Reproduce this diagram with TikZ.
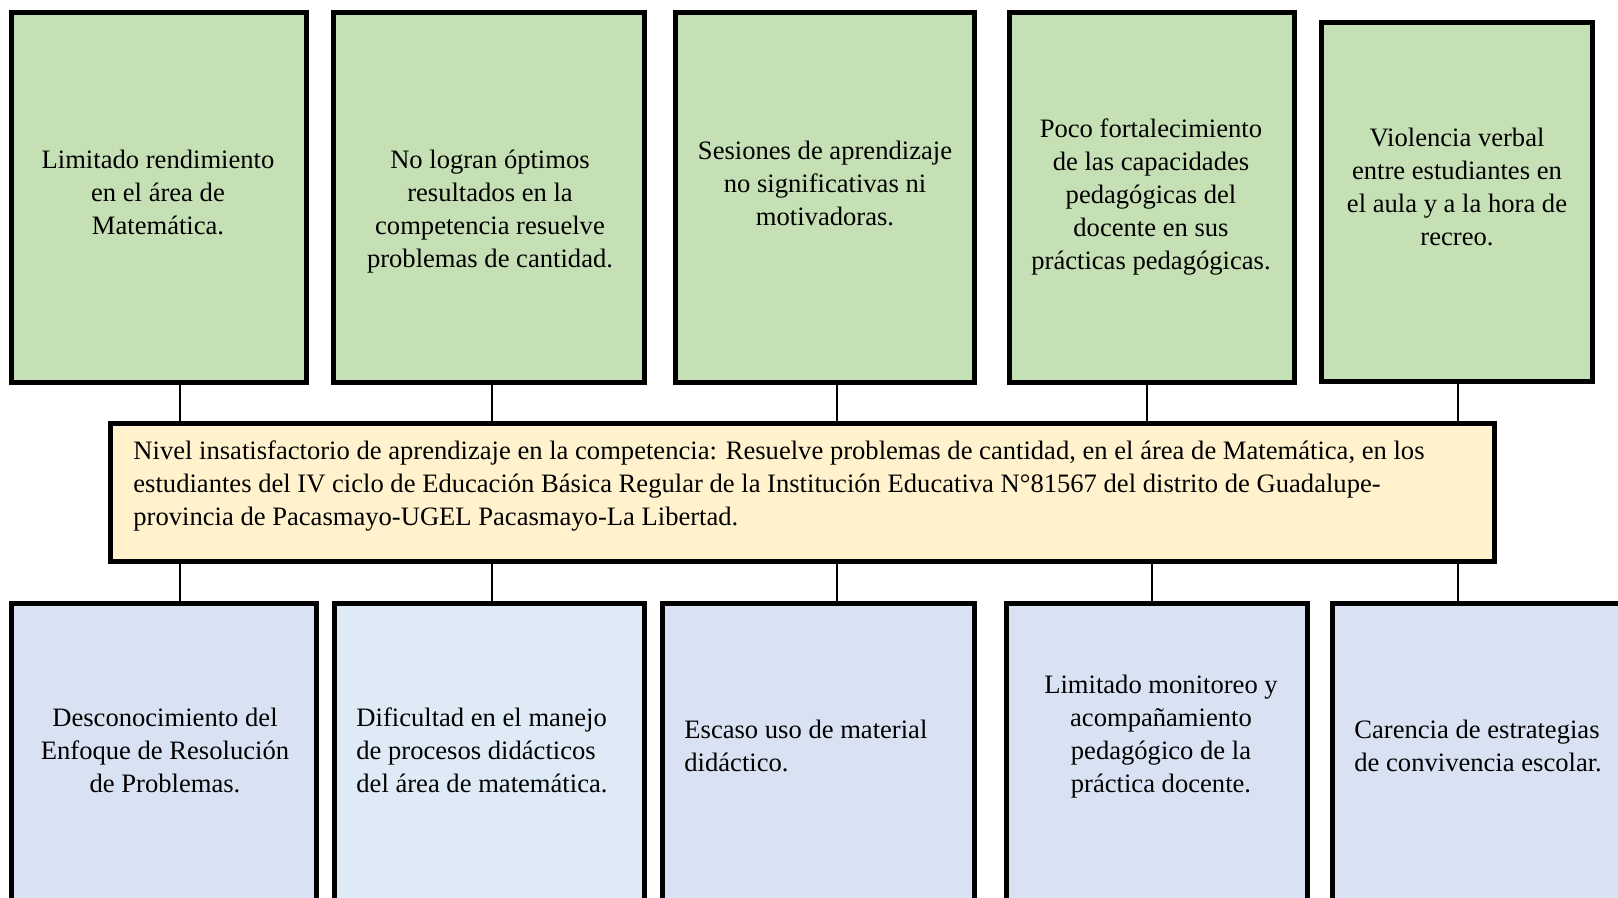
\documentclass[tikz,border=0pt]{standalone}
\usepackage{fontspec}
\setmainfont{Liberation Serif}
\definecolor{topgreen}{HTML}{C5E0B4}
\definecolor{midyellow}{HTML}{FFF2CC}
\definecolor{botblue}{HTML}{D9E2F3}
\definecolor{botblue2}{HTML}{DEEAF6}
\tikzset{
  box/.style={draw=black, line width=2.5pt, rectangle, inner sep=0pt, outer sep=0pt},
  topbox/.style={box, fill=topgreen},
  midbox/.style={box, fill=midyellow},
  botbox/.style={box, fill=botblue},
  txt/.style={inner sep=0pt, font=\fontsize{13.3pt}{16.5pt}\selectfont},
  ctxt/.style={txt, align=center},
  ltxt/.style={txt, align=left},
  conn/.style={draw=black, line width=1pt}
}
\begin{document}
\begin{tikzpicture}[x=0.5pt, y=-0.5pt]
\useasboundingbox (0,0) rectangle (1618,898);
\clip (0,0) rectangle (1618,898);
% top boxes
\node[topbox, minimum width=147.5pt, minimum height=185pt] (t1) at (159,197.5) {};
\node[topbox, minimum width=155.5pt, minimum height=185pt] (t2) at (489,197.5) {};
\node[topbox, minimum width=149.5pt, minimum height=185pt] (t3) at (825,197.5) {};
\node[topbox, minimum width=142.5pt, minimum height=185pt] (t4) at (1152,197.5) {};
\node[topbox, minimum width=135.5pt, minimum height=179.5pt] (t5) at (1457,202) {};
% centre box
\node[midbox, minimum width=692pt, minimum height=69pt] (c) at (802.5,492.5) {};
% bottom boxes
\node[botbox, minimum width=152.5pt, minimum height=200pt] (b1) at (164,803.5) {};
\node[botbox, fill=botblue2, minimum width=155pt, minimum height=200pt] (b2) at (489.5,803.5) {};
\node[botbox, minimum width=156pt, minimum height=200pt] (b3) at (818.5,803.5) {};
\node[botbox, minimum width=150.5pt, minimum height=200pt] (b4) at (1157,803.5) {};
\node[botbox, minimum width=182.5pt, minimum height=200pt] (b5) at (1515,803.5) {};
% texts top
\node[ctxt] (tt1) at (158,192) {Limitado rendimiento\\en el área de\\Matemática.};
\node[ctxt] (tt2) at (490,212) {No logran óptimos\\resultados en la\\competencia resuelve\\problemas de cantidad.};
\node[ctxt] (tt3) at (825,183) {Sesiones de aprendizaje\\no significativas ni\\motivadoras.};
\node[ctxt] (tt4) at (1151,197) {Poco fortalecimiento\\de las capacidades\\pedagógicas del\\docente en sus\\prácticas pedagógicas.};
\node[ctxt] (tt5) at (1457,187) {Violencia verbal\\entre estudiantes en\\el aula y a la hora de\\recreo.};
% centre text
\node[ltxt, anchor=west] (ct) at (133,486) {Nivel insatisfactorio de aprendizaje en la competencia: Resuelve problemas de cantidad, en el área de Matemática, en los\\estudiantes del IV ciclo de Educación Básica Regular de la Institución Educativa N°81567 del distrito de Guadalupe-\\provincia de Pacasmayo-UGEL Pacasmayo-La Libertad.};
% bottom texts
\node[ctxt] (bt1) at (165,750) {Desconocimiento del\\Enfoque de Resolución\\de Problemas.};
\node[ltxt, anchor=west] (bt2) at (356,750) {Dificultad en el manejo\\de procesos didácticos\\del área de matemática.};
\node[ltxt, anchor=west] (bt3) at (684,746) {Escaso uso de material\\didáctico.};
\node[ctxt] (bt4) at (1161,737) {Limitado monitoreo y\\acompañamiento\\pedagógico de la\\práctica docente.};
\node[ltxt, anchor=west] (bt5) at (1354,746) {Carencia de estrategias\\de convivencia escolar.};
% connectors top
\path ([xshift=10.5pt]t1.south) coordinate (a1);
\path ([xshift=1.5pt]t2.south) coordinate (a2);
\path ([xshift=6pt]t3.south) coordinate (a3);
\path ([xshift=-2.5pt]t4.south) coordinate (a4);
\path ([xshift=0.5pt]t5.south) coordinate (a5);
\foreach \i in {1,...,5} {\draw[conn] (a\i) -- (a\i |- c.north);}
% connectors bottom
\path ([xshift=8pt]b1.north) coordinate (d1);
\path ([xshift=1.25pt]b2.north) coordinate (d2);
\path ([xshift=9.25pt]b3.north) coordinate (d3);
\path ([xshift=-2.5pt]b4.north) coordinate (d4);
\path ([xshift=-28.5pt]b5.north) coordinate (d5);
\foreach \i in {1,...,5} {\draw[conn] (d\i |- c.south) -- (d\i);}
\end{tikzpicture}
\end{document}
